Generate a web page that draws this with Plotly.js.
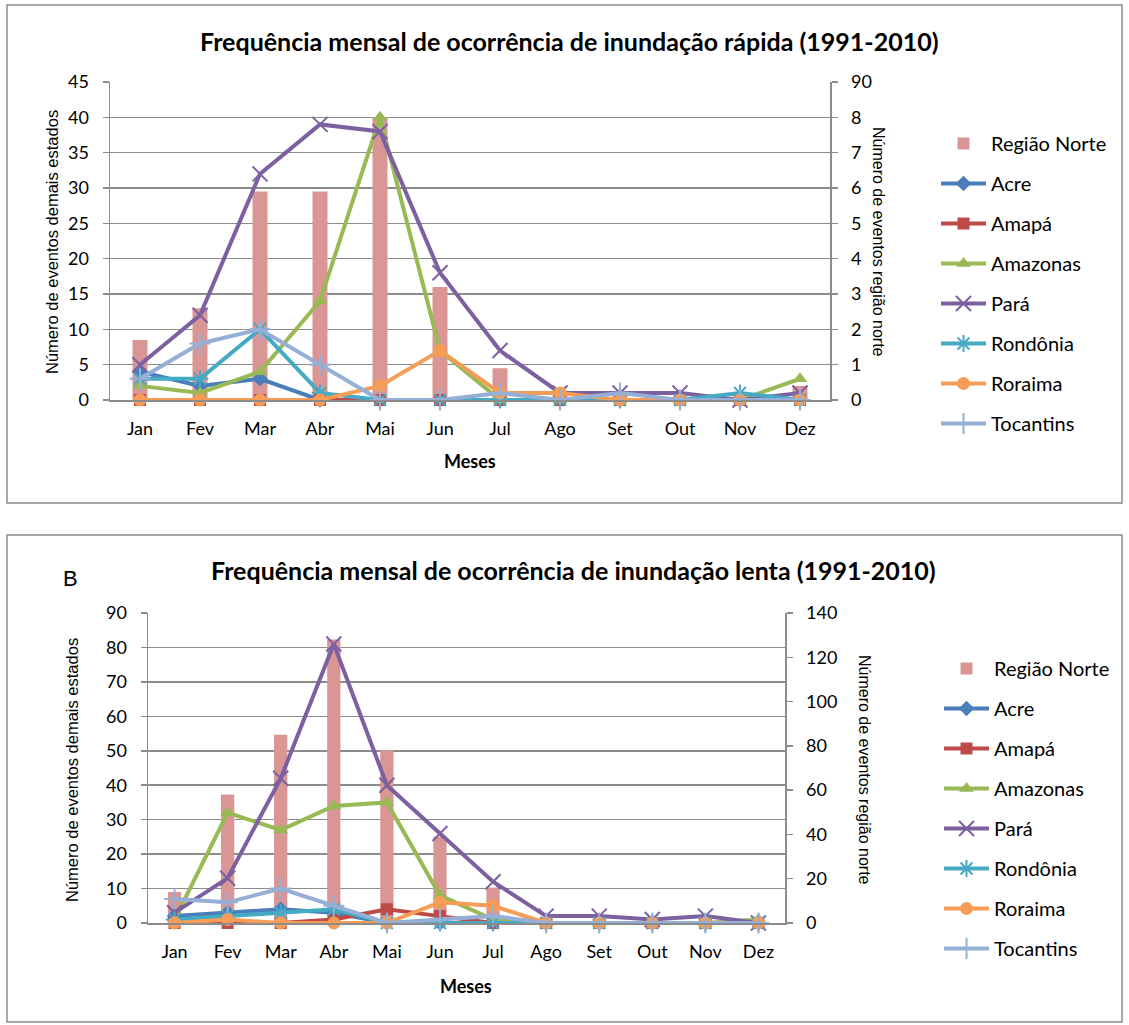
<!DOCTYPE html>
<html>
<head>
<meta charset="utf-8">
<script src="https://cdn.plot.ly/plotly-3.0.1.min.js"></script>
<style>html,body{margin:0;padding:0;background:#fff;}#chart{width:1129px;height:1025px;}</style>
</head>
<body>
<div id="chart"></div>
<script>
// ---- data ----
const months = ["Jan","Fev","Mar","Abr","Mai","Jun","Jul","Ago","Set","Out","Nov","Dez"];
const seriesNames = ["Acre","Amapá","Amazonas","Pará","Rondônia","Roraima","Tocantins"];
const regionName = "Região Norte";

// Inundação rápida (states: left axis; região norte: right axis)
const rapidaRegiao    = [1.7, 2.6, 5.9, 5.9, 8.0, 3.2, 0.9, 0.2, 0.2, 0.1, 0.1, 0.4];
const rapidaAcre      = [4, 2, 3, 0, 0, 0, 0, 0, 0, 0, 0, 0];
const rapidaAmapa     = [0, 0, 0, 0, 0, 0, 0, 0, 0, 0, 0, 0];
const rapidaAmazonas  = [2, 1, 4, 14, 40, 7, 0, 0, 0, 0, 0, 3];
const rapidaPara      = [5, 12, 32, 39, 38, 18, 7, 1, 1, 1, 0, 1];
const rapidaRondonia  = [3, 3, 10, 1, 0, 0, 0, 0, 0, 0, 1, 0];
const rapidaRoraima   = [0, 0, 0, 0, 2, 7, 1, 1, 0, 0, 0, 0];
const rapidaTocantins = [3, 8, 10, 5, 0, 0, 1, 0, 1, 0, 0, 0];

// Inundação lenta
const lentaRegiao    = [14, 58, 85, 128, 78, 39, 16, 2, 2, 1, 2, 1];
const lentaAcre      = [2, 3, 4, 3, 0, 0, 0, 0, 0, 0, 0, 0];
const lentaAmapa     = [0, 0, 0, 1, 4, 2, 0, 0, 0, 0, 0, 0];
const lentaAmazonas  = [1, 32, 27, 34, 35, 8, 1, 0, 0, 0, 0, 1];
const lentaPara      = [3, 13, 42, 81, 40, 26, 12, 2, 2, 1, 2, 0];
const lentaRondonia  = [1, 2, 3, 4, 0, 0, 0, 0, 0, 0, 0, 0];
const lentaRoraima   = [0, 1, 0, 0, 0, 6, 5, 0, 0, 0, 0, 0];
const lentaTocantins = [7, 6, 10, 5, 0, 1, 2, 0, 0, 0, 0, 0];

// tick labels
const rapidaLeftTicks  = [0,5,10,15,20,25,30,35,40,45];
const rapidaRightVals  = [0,1,2,3,4,5,6,7,8,9];
const rapidaRightText  = ["0","1","2","3","4","5","6","7","8","90"];
const lentaLeftTicks   = [0,10,20,30,40,50,60,70,80,90];
const lentaRightTicks  = [0,20,40,60,80,100,120,140];

// ---- styles ----
const W = 1129, H = 1025;
const px = v => v / W, py = v => 1 - v / H;
const colors = ["#4A7EBB","#BE4B48","#98B954","#7D60A0","#46AAC5","#F59D56","#95AFD6"];
const symbols = ["diamond","square","triangle-up","x-thin-open","asterisk-open","circle","cross-thin-open"];
const msize = [12, 12, 13, 15, 14, 13, 15];
const barColor = "#D99694";
const gridColor = "#8C8C8C";
const FONT = "Lato, 'Open Sans', sans-serif";
const AFONT = "'Liberation Sans', Arial, sans-serif";

function lineTrace(name, i, y, xa, ya, legend) {
  const thin = symbols[i].indexOf("open") >= 0;
  return {
    type: "scatter", mode: "lines+markers", name: name, x: months, y: y,
    xaxis: xa, yaxis: ya, legend: legend, legendgroup: legend + name,
    cliponaxis: false,
    line: {color: colors[i], width: 4},
    marker: {symbol: symbols[i], size: msize[i], color: colors[i],
             line: {color: colors[i], width: thin ? 2 : 0}}
  };
}
function barTrace(y, xa, ya, legend) {
  return {type: "bar", name: regionName, x: months, y: y, xaxis: xa, yaxis: ya,
          legend: legend, legendgroup: legend + "reg",
          width: 0.25, marker: {color: barColor}};
}

const rapida = [rapidaAcre, rapidaAmapa, rapidaAmazonas, rapidaPara, rapidaRondonia, rapidaRoraima, rapidaTocantins];
const lenta  = [lentaAcre, lentaAmapa, lentaAmazonas, lentaPara, lentaRondonia, lentaRoraima, lentaTocantins];

const data = [barTrace(rapidaRegiao, "x", "y", "legend")];
seriesNames.forEach((n, i) => data.push(lineTrace(n, i, rapida[i], "x", "y2", "legend")));
data.push(barTrace(lentaRegiao, "x2", "y3", "legend2"));
seriesNames.forEach((n, i) => data.push(lineTrace(n, i, lenta[i], "x2", "y4", "legend2")));

const tickFont = {family: FONT, size: 18, color: "#000"};
const xCommon = {type: "category", range: [-0.5, 11.5], showgrid: false, zeroline: false,
  showline: true, linecolor: gridColor, linewidth: 1.5, ticks: "", tickfont: tickFont,
  ticklabelstandoff: 12, fixedrange: true};
const yAxisBase = {zeroline: false, showline: true, linecolor: gridColor, linewidth: 1.5,
  ticks: "outside", ticklen: 6, tickcolor: gridColor, tickwidth: 1.5, tickfont: tickFont,
  ticklabelstandoff: 10, fixedrange: true};

const legendCommon = {xanchor: "left", yanchor: "top", bgcolor: "rgba(0,0,0,0)",
  font: {family: FONT, size: 20, color: "#000"}, tracegroupgap: 11, itemwidth: 45, traceorder: "grouped"};

const layout = {
  width: W, height: H, margin: {l: 0, r: 0, t: 0, b: 0},
  paper_bgcolor: "#fff", plot_bgcolor: "rgba(0,0,0,0)",
  barmode: "overlay", showlegend: true,
  xaxis: Object.assign({}, xCommon, {domain: [px(110), px(830)], anchor: "y"}),
  yaxis: Object.assign({}, yAxisBase, {domain: [py(400), py(82)], anchor: "x", side: "right",
    range: [0, 9], tickvals: rapidaRightVals, ticktext: rapidaRightText, showgrid: false}),
  yaxis2: Object.assign({}, yAxisBase, {overlaying: "y", anchor: "x", side: "left",
    range: [0, 45], tickvals: rapidaLeftTicks, showgrid: true, gridcolor: gridColor, gridwidth: 1.5}),
  xaxis2: Object.assign({}, xCommon, {domain: [px(148), px(785)], anchor: "y3"}),
  yaxis3: Object.assign({}, yAxisBase, {domain: [py(923), py(613)], anchor: "x2", side: "right",
    range: [0, 140], tickvals: lentaRightTicks, showgrid: false}),
  yaxis4: Object.assign({}, yAxisBase, {overlaying: "y3", anchor: "x2", side: "left",
    range: [0, 90], tickvals: lentaLeftTicks, showgrid: true, gridcolor: gridColor, gridwidth: 1.5}),
  legend: Object.assign({}, legendCommon, {x: px(936), y: py(124)}),
  legend2: Object.assign({}, legendCommon, {x: px(939), y: py(649)}),
  shapes: [
    {type: "rect", xref: "paper", yref: "paper", x0: px(7), x1: px(1122), y0: py(503), y1: py(5),
     line: {color: "#8C8C8C", width: 1.5}, layer: "below"},
    {type: "rect", xref: "paper", yref: "paper", x0: px(7), x1: px(1122), y0: py(1022), y1: py(535),
     line: {color: "#8C8C8C", width: 1.5}, layer: "below"}
  ],
  annotations: [
    {text: "<b>Frequência mensal de ocorrência de inundação rápida (1991-2010)</b>", xref: "paper", yref: "paper",
     x: px(569), y: py(41), xanchor: "center", yanchor: "middle", showarrow: false,
     font: {family: FONT, size: 25, color: "#000"}},
    {text: "<b>Frequência mensal de ocorrência de inundação lenta (1991-2010)</b>", xref: "paper", yref: "paper",
     x: px(573), y: py(570), xanchor: "center", yanchor: "middle", showarrow: false,
     font: {family: FONT, size: 25, color: "#000"}},
    {text: "B", xref: "paper", yref: "paper", x: px(70), y: py(578), xanchor: "center", yanchor: "middle",
     showarrow: false, font: {family: AFONT, size: 22, color: "#000"}},
    {text: "Número de eventos demais estados", xref: "paper", yref: "paper", x: px(52), y: py(242),
     textangle: -90, xanchor: "center", yanchor: "middle", showarrow: false, font: {family: AFONT, size: 16.5, color: "#000"}},
    {text: "Número de eventos demais estados", xref: "paper", yref: "paper", x: px(72), y: py(770),
     textangle: -90, xanchor: "center", yanchor: "middle", showarrow: false, font: {family: AFONT, size: 16.5, color: "#000"}},
    {text: "Número de eventos região norte", xref: "paper", yref: "paper", x: px(879), y: py(242),
     textangle: 90, xanchor: "center", yanchor: "middle", showarrow: false, font: {family: AFONT, size: 16, color: "#000"}},
    {text: "Número de eventos região norte", xref: "paper", yref: "paper", x: px(865), y: py(770),
     textangle: 90, xanchor: "center", yanchor: "middle", showarrow: false, font: {family: AFONT, size: 16, color: "#000"}},
    {text: "<b>Meses</b>", xref: "paper", yref: "paper", x: px(470), y: py(461), xanchor: "center", yanchor: "middle",
     showarrow: false, font: {family: FONT, size: 18, color: "#000"}},
    {text: "<b>Meses</b>", xref: "paper", yref: "paper", x: px(466), y: py(986), xanchor: "center", yanchor: "middle",
     showarrow: false, font: {family: FONT, size: 18, color: "#000"}}
  ]
};

Plotly.newPlot("chart", data, layout, {staticPlot: true, displayModeBar: false});
</script>
</body>
</html>
